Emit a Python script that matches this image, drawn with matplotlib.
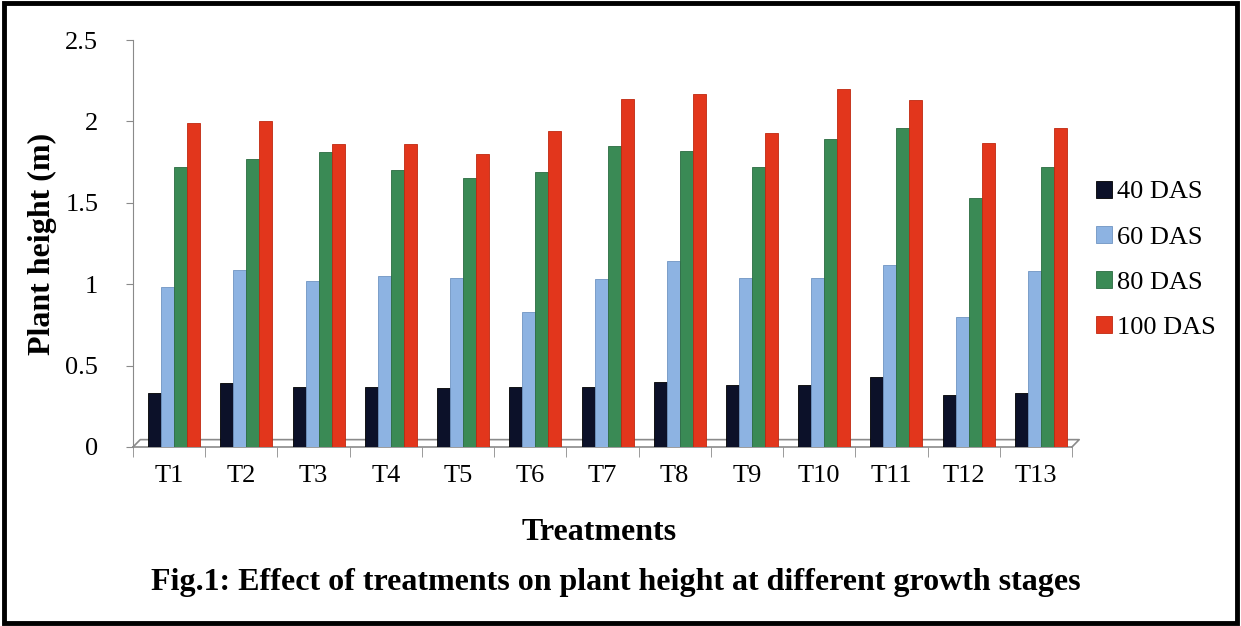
import matplotlib.pyplot as plt
import numpy as np
from matplotlib.patches import Rectangle

plt.rcParams['font.family'] = ['Liberation Serif', 'DejaVu Serif']

treatments = ['T1', 'T2', 'T3', 'T4', 'T5', 'T6', 'T7', 'T8', 'T9', 'T10', 'T11', 'T12', 'T13']
das40 = [0.33, 0.39, 0.37, 0.37, 0.36, 0.37, 0.37, 0.40, 0.38, 0.38, 0.43, 0.32, 0.33]
das60 = [0.98, 1.09, 1.02, 1.05, 1.04, 0.83, 1.03, 1.14, 1.04, 1.04, 1.12, 0.80, 1.08]
das80 = [1.72, 1.77, 1.81, 1.70, 1.65, 1.69, 1.85, 1.82, 1.72, 1.89, 1.96, 1.53, 1.72]
das100 = [1.99, 2.00, 1.86, 1.86, 1.80, 1.94, 2.14, 2.17, 1.93, 2.20, 2.13, 1.87, 1.96]
series_names = ['40 DAS', '60 DAS', '80 DAS', '100 DAS']

colors = ['#0c1129', '#8db3e2', '#3a8a55', '#e2361c']
edges = ['#000000', '#6f94c2', '#2a6b40', '#c0280f']

fig = plt.figure(figsize=(12.41, 6.26), dpi=100)
ax = fig.add_axes([0.1072, 0.286, 0.7566, 0.65])

x = np.arange(len(treatments))
width = 0.18
shift = 0.07  # bars sit a little right of the label, like the 3-D chart
for i, (vals, name) in enumerate(zip([das40, das60, das80, das100], series_names)):
    ax.bar(x + shift + (i - 1.5) * width, vals, width=width, color=colors[i],
           edgecolor=edges[i], linewidth=0.6, label=name, zorder=3)

# thin floor under the bars
dx, dy = 0.1, 0.045
ax.plot([-0.5, -0.5 + dx, 12.5 + dx, 12.5], [0, dy, dy, 0], color='#8a8a8a',
        lw=1.2, clip_on=False, zorder=2)
ax.plot([-0.5, 12.5], [0, 0], color='#8a8a8a', lw=1.2, clip_on=False, zorder=2)

ax.set_xlim(-0.5, 12.5)
ax.set_ylim(0, 2.5)
ax.set_yticks([0, 0.5, 1, 1.5, 2, 2.5])
ax.set_yticklabels(['0', '0.5', '1', '1.5', '2', '2.5'], fontsize=19)
ax.set_xticks(x)
ax.set_xticklabels(treatments, fontsize=19)
ax.tick_params(axis='x', length=0, pad=13)
ax.set_xticks(np.arange(-0.5, 13, 1), minor=True)
ax.tick_params(axis='x', which='minor', length=7, color='#8a8a8a', direction='out')
ax.tick_params(axis='y', length=5, color='#8a8a8a', pad=20)

for side in ['top', 'right', 'bottom']:
    ax.spines[side].set_visible(False)
ax.spines['left'].set_color('#8a8a8a')

ax.set_ylabel('Plant height (m)', fontsize=23, fontweight='bold', labelpad=6)

leg = ax.legend(loc='center left', bbox_to_anchor=(1.0, 0.46), frameon=False,
                fontsize=19, handlelength=0.6, handleheight=0.6, handletextpad=0.2,
                labelspacing=0.85)

fig.text(0.483, 0.15, 'Treatments', ha='center', va='center',
         fontsize=23, fontweight='bold')
fig.text(0.496, 0.07, 'Fig.1: Effect of treatments on plant height at different growth stages',
         ha='center', va='center', fontsize=23, fontweight='bold')

# outer frame
fig.patches.append(Rectangle((0.003, 0.005), 0.994, 0.99, transform=fig.transFigure,
                             fill=False, edgecolor='black', linewidth=3.5))

fig.savefig('out.png', dpi=100)
